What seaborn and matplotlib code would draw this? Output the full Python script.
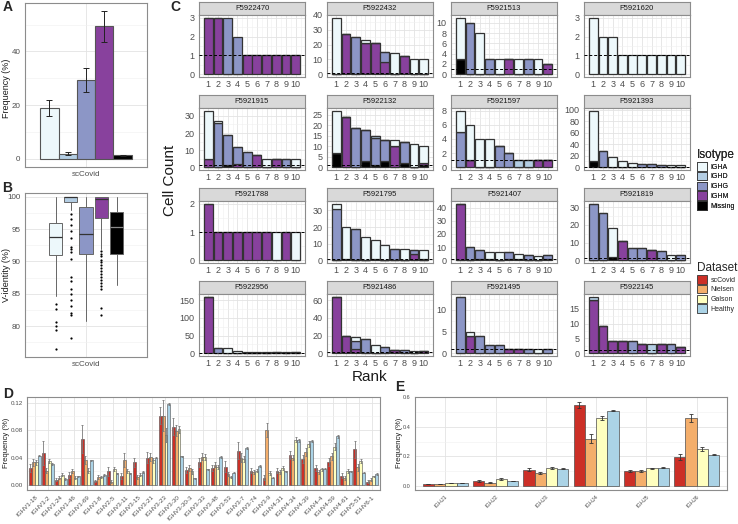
import numpy as np
import pandas as pd
import matplotlib
matplotlib.use("Agg")
import matplotlib.pyplot as plt
import seaborn as sns
from matplotlib.patches import Patch
from matplotlib.ticker import MultipleLocator


W, H = 738, 524

# -----------------------------
# Data
# -----------------------------
isotypes = ["IGHA", "IGHD", "IGHG", "IGHM", "Missing"]
iso_colors = ["#edf8fb", "#b3cde3", "#8c96c6", "#88419d", "#000000"]

datasets = ["scCovid", "Nielsen", "Galson", "Healthy"]
ds_colors = ["#cc2f27", "#f4ae6b", "#ffffbf", "#abd3e6"]

# A: isotype frequency (%)
iso_freq = [19.0, 2.0, 29.3, 49.4, 1.3]
iso_err = [3.0, 0.6, 4.4, 5.8, 0.3]

# B: V-identity boxplot summaries
box_med = [93.8, 100.0, 94.3, 99.7, 95.3]
box_q1 = [91.0, 99.2, 91.2, 96.8, 91.2]
box_q3 = [96.0, 100.0, 98.4, 100.0, 97.6]
box_lo = [84.6, 98.0, 80.7, 92.0, 86.3]
box_hi = [100.0, 100.0, 100.0, 100.0, 100.0]
fliers_igha = [83.4, 82.6, 80.6, 80.0, 79.4, 76.4]
fliers_ighd = [97.3, 96.5, 95.7, 94.7, 93.6, 92.2, 91.9, 91.5, 90.4, 87.6,
               86.9, 85.7, 84.9, 84.0, 83.1, 82.0, 81.7, 78.1]
fliers_ighg = []
fliers_ighm = [91.6, 91.2, 90.8, 90.3, 89.9, 89.4, 89.0, 88.5, 88.1, 87.6,
               87.2, 86.7, 86.2, 85.8, 82.8, 81.7]
fliers_missing = []

# C: clone cell counts by rank for each donor
ranks = list(range(1, 11))
facet_names = ["F5922470", "F5922432", "F5921513", "F5921620",
               "F5921915", "F5922132", "F5921597", "F5921393",
               "F5921788", "F5921795", "F5921407", "F5921819",
               "F5922956", "F5921486", "F5921495", "F5922145"]

F5922470 = {"IGHG": [0, 0, 3, 2, 0, 0, 0, 0, 0, 0],
            "IGHM": [3, 3, 0, 0, 1, 1, 1, 1, 1, 1]}
F5922432 = {"IGHA": [38, 0, 0, 2, 0, 0, 14, 0, 10, 10],
            "IGHG": [0, 0, 25, 0, 0, 7, 0, 0, 0, 0],
            "IGHM": [0, 27, 0, 21, 21, 8, 0, 12, 0, 0]}
F5921513 = {"IGHA": [8, 0, 8, 0, 3, 0, 3, 0, 3, 0],
            "IGHG": [0, 10, 0, 3, 0, 0, 0, 3, 0, 0],
            "IGHM": [0, 0, 0, 0, 0, 3, 0, 0, 0, 2],
            "Missing": [3, 0, 0, 0, 0, 0, 0, 0, 0, 0]}
F5921620 = {"IGHA": [3, 2, 2, 1, 1, 1, 1, 1, 1, 1]}
F5921915 = {"IGHA": [28, 1, 0, 0, 0, 0, 5, 0, 0, 5],
            "IGHG": [0, 26, 18, 10, 9, 0, 0, 0, 5, 0],
            "IGHM": [5, 0, 0, 2, 0, 7, 0, 5, 0, 0],
            "Missing": [0, 0, 1, 0, 0, 0, 0, 0, 0, 0]}
F5922132 = {"IGHA": [20, 0, 0, 0, 0, 0, 3, 0, 11, 8],
            "IGHD": [0, 0, 0, 0, 1, 0, 0, 0, 0, 0],
            "IGHG": [0, 0, 19, 15, 13, 10, 0, 10, 0, 0],
            "IGHM": [0, 24, 0, 0, 0, 0, 10, 0, 0, 1],
            "Missing": [7, 0, 0, 3, 1, 3, 0, 2, 0, 1]}
F5921597 = {"IGHA": [3, 5, 4, 4, 0, 0, 0, 0, 0, 0],
            "IGHD": [0, 0, 0, 0, 0, 0, 1, 1, 0, 0],
            "IGHG": [5, 0, 0, 0, 3, 2, 0, 0, 0, 0],
            "IGHM": [0, 1, 0, 0, 0, 0, 0, 0, 1, 1]}
F5921393 = {"IGHA": [88, 0, 18, 10, 7, 0, 0, 0, 4, 3],
            "IGHG": [0, 28, 0, 0, 0, 6, 5, 4, 0, 0],
            "Missing": [10, 0, 0, 0, 0, 0, 0, 0, 0, 0]}
F5921788 = {"IGHA": [0, 0, 0, 0, 0, 0, 0, 1, 0, 1],
            "IGHM": [2, 1, 1, 1, 1, 1, 1, 0, 1, 0]}
F5921795 = {"IGHA": [3, 19, 0, 14, 11, 9, 0, 7, 0, 5],
            "IGHG": [31, 0, 19, 0, 0, 0, 7, 0, 2, 1],
            "IGHM": [0, 0, 0, 0, 0, 0, 0, 0, 4, 0],
            "Missing": [0, 1, 0, 0, 1, 0, 0, 0, 0, 0]}
F5921407 = {"IGHA": [0, 0, 0, 5, 6, 0, 4, 0, 3, 0],
            "IGHG": [0, 10, 7, 0, 0, 5, 0, 4, 0, 3],
            "IGHM": [43, 0, 0, 0, 0, 0, 0, 0, 0, 0],
            "Missing": [0, 0, 1, 1, 0, 1, 1, 0, 0, 1]}
F5921819 = {"IGHA": [0, 0, 16, 0, 0, 0, 0, 0, 3, 0],
            "IGHG": [32, 27, 0, 0, 7, 7, 0, 5, 0, 3],
            "IGHM": [0, 0, 0, 11, 0, 0, 6, 0, 0, 0],
            "Missing": [0, 0, 2, 0, 0, 0, 0, 0, 0, 0]}
F5922956 = {"IGHA": [0, 0, 14, 5, 4, 2, 2, 0, 2, 0],
            "IGHG": [0, 15, 0, 0, 0, 0, 0, 2, 0, 2],
            "IGHM": [160, 0, 0, 0, 0, 0, 0, 0, 0, 0]}
F5921486 = {"IGHA": [0, 0, 4, 0, 9, 0, 0, 0, 3, 0],
            "IGHG": [0, 0, 9, 16, 0, 7, 0, 4, 0, 0],
            "IGHM": [64, 20, 5, 0, 0, 0, 4, 0, 0, 3]}
F5921495 = {"IGHA": [0, 1, 0, 0, 0, 0, 0, 0, 1, 0],
            "IGHG": [13, 0, 4, 2, 2, 0, 0, 1, 0, 1],
            "IGHM": [0, 4, 0, 0, 0, 1, 1, 0, 0, 0]}
F5922145 = {"IGHD": [1, 0, 0, 0, 0, 0, 3, 0, 0, 0],
            "IGHG": [0, 0, 0, 0, 4, 0, 0, 0, 3, 0],
            "IGHM": [18, 9, 4, 4, 0, 3, 0, 3, 0, 2]}

facet_counts = [F5922470, F5922432, F5921513, F5921620,
                F5921915, F5922132, F5921597, F5921393,
                F5921788, F5921795, F5921407, F5921819,
                F5922956, F5921486, F5921495, F5922145]
facet_ticks = [[0, 1, 2, 3], [0, 10, 20, 30, 40], [0, 2, 4, 6, 8, 10], [0, 1, 2, 3],
               [0, 10, 20, 30], [0, 5, 10, 15, 20, 25], [0, 2, 4, 6, 8], [0, 20, 40, 60, 80, 100],
               [0, 1, 2], [0, 10, 20, 30], [0, 10, 20, 30, 40], [0, 10, 20, 30],
               [0, 50, 100, 150], [0, 20, 40, 60], [0, 5, 10], [0, 5, 10, 15]]

# D: IGHV gene usage
v_genes = ["IGHV1-18", "IGHV1-2", "IGHV1-24", "IGHV1-46", "IGHV1-69", "IGHV1-8",
           "IGHV2-5", "IGHV3-11", "IGHV3-15", "IGHV3-21", "IGHV3-23", "IGHV3-30",
           "IGHV3-30-3", "IGHV3-33", "IGHV3-48", "IGHV3-53", "IGHV3-7", "IGHV3-74",
           "IGHV3-9", "IGHV4-31", "IGHV4-34", "IGHV4-39", "IGHV4-4", "IGHV4-59",
           "IGHV4-61", "IGHV5-51", "IGHV6-1"]
v_sccovid = [0.025, 0.047, 0.008, 0.015, 0.067, 0.006, 0.020, 0.013, 0.033, 0.040,
             0.101, 0.085, 0.022, 0.033, 0.025, 0.027, 0.050, 0.021, 0.011, 0.021,
             0.044, 0.038, 0.025, 0.034, 0.014, 0.052, 0.005]
v_nielsen = [0.033, 0.021, 0.011, 0.020, 0.037, 0.012, 0.005, 0.036, 0.012, 0.041,
             0.101, 0.079, 0.025, 0.041, 0.030, 0.016, 0.040, 0.019, 0.080, 0.019,
             0.040, 0.048, 0.019, 0.042, 0.011, 0.026, 0.008]
v_galson = [0.033, 0.035, 0.015, 0.011, 0.021, 0.012, 0.024, 0.020, 0.015, 0.036,
            0.073, 0.081, 0.020, 0.041, 0.027, 0.012, 0.038, 0.021, 0.018, 0.025,
            0.066, 0.060, 0.023, 0.056, 0.020, 0.035, 0.013]
v_healthy = [0.043, 0.031, 0.009, 0.013, 0.036, 0.015, 0.017, 0.017, 0.019, 0.040,
             0.118, 0.042, 0.010, 0.023, 0.041, 0.018, 0.054, 0.028, 0.011, 0.020,
             0.065, 0.064, 0.024, 0.071, 0.020, 0.018, 0.016]
v_err_sccovid = [0.006, 0.017, 0.002, 0.004, 0.020, 0.002, 0.007, 0.004, 0.006, 0.008,
                 0.012, 0.012, 0.005, 0.006, 0.004, 0.008, 0.012, 0.004, 0.004, 0.004,
                 0.006, 0.006, 0.004, 0.006, 0.004, 0.012, 0.002]
v_err_nielsen = [0.005, 0.004, 0.002, 0.003, 0.006, 0.003, 0.002, 0.010, 0.003, 0.006,
                 0.022, 0.008, 0.004, 0.005, 0.004, 0.003, 0.007, 0.003, 0.010, 0.003,
                 0.004, 0.006, 0.003, 0.005, 0.003, 0.005, 0.002]
v_err_galson = [0.003, 0.003, 0.002, 0.002, 0.004, 0.002, 0.003, 0.003, 0.002, 0.004,
                0.010, 0.005, 0.004, 0.004, 0.003, 0.002, 0.005, 0.002, 0.003, 0.003,
                0.004, 0.004, 0.002, 0.005, 0.003, 0.003, 0.001]
v_err_healthy = [0.001, 0.001, 0.001, 0.001, 0.001, 0.001, 0.001, 0.001, 0.001, 0.001,
                 0.002, 0.001, 0.001, 0.001, 0.001, 0.001, 0.001, 0.001, 0.001, 0.001,
                 0.002, 0.002, 0.001, 0.002, 0.001, 0.001, 0.001]

# E: IGHJ gene usage
j_genes = ["IGHJ1", "IGHJ2", "IGHJ3", "IGHJ4", "IGHJ5", "IGHJ6"]
j_sccovid = [0.010, 0.030, 0.107, 0.550, 0.098, 0.195]
j_nielsen = [0.012, 0.020, 0.086, 0.320, 0.097, 0.460]
j_galson = [0.018, 0.045, 0.119, 0.460, 0.117, 0.251]
j_healthy = [0.018, 0.031, 0.115, 0.510, 0.122, 0.211]
j_err_sccovid = [0.002, 0.006, 0.010, 0.020, 0.008, 0.022]
j_err_nielsen = [0.002, 0.003, 0.008, 0.030, 0.006, 0.030]
j_err_galson = [0.002, 0.004, 0.006, 0.012, 0.004, 0.015]
j_err_healthy = [0.001, 0.001, 0.002, 0.004, 0.002, 0.004]


# -----------------------------
# Helpers
# -----------------------------
def add_axes_px(fig, x0, y0, x1, y1):
    return fig.add_axes([x0 / W, 1 - y1 / H, (x1 - x0) / W, (y1 - y0) / H])


def ylabel_px(fig, x, y, text, size):
    fig.text(x / W, 1 - y / H, text, rotation=90, fontsize=size,
             ha="center", va="center", color="#1a1a1a")


def style_panel(ax, tick_size):
    ax.set_facecolor("white")
    for s in ax.spines.values():
        s.set_visible(True)
        s.set_color("#8c8c8c")
        s.set_linewidth(0.8)
    ax.tick_params(axis="both", which="major", length=2, width=0.5,
                   color="#333333", labelsize=tick_size,
                   labelcolor="#4d4d4d", pad=1.2)
    ax.tick_params(axis="both", which="minor", length=0)
    ax.grid(True, which="major", color="#e3e3e3", linewidth=0.6)
    ax.grid(True, which="minor", color="#f0f0f0", linewidth=0.4)
    ax.set_axisbelow(True)
    ax.set_xlabel("")
    ax.set_ylabel("")


def add_errorbars(ax, values, errors, color, lw, cap):
    bars = [p for p in ax.patches if p.get_height() > 0]
    bars = sorted(bars, key=lambda p: p.get_x())
    centers = [p.get_x() + p.get_width() / 2 for p in bars]
    ax.errorbar(centers, values, yerr=errors, fmt="none", ecolor=color,
                elinewidth=lw, capsize=cap, capthick=lw, zorder=5)


# -----------------------------
# Panels
# -----------------------------
def panel_a(fig):
    ax = add_axes_px(fig, 25, 3, 147, 167)
    df = pd.DataFrame({"dataset": "scCovid", "isotype": isotypes, "freq": iso_freq})
    sns.barplot(data=df, x="dataset", y="freq", hue="isotype", hue_order=isotypes,
                palette=iso_colors, width=0.9, saturation=1, errorbar=None,
                edgecolor="#555555", linewidth=0.8, legend=False, ax=ax)
    add_errorbars(ax, iso_freq, iso_err, "#222222", 0.7, 2.5)
    style_panel(ax, 5.8)
    ax.set_xlim(-0.6, 0.6)
    ax.set_ylim(-3, 58)
    ax.set_yticks([0, 20, 40])
    ax.yaxis.set_minor_locator(MultipleLocator(10))
    ylabel_px(fig, 7, 88, "Frequency (%)", 6.5)


def panel_b(fig):
    ax = add_axes_px(fig, 25, 193, 147, 357)
    fliers = [fliers_igha, fliers_ighd, fliers_ighg, fliers_ighm, fliers_missing]
    stats = []
    for i in range(len(isotypes)):
        stats.append({"med": box_med[i], "q1": box_q1[i], "q3": box_q3[i],
                      "whislo": box_lo[i], "whishi": box_hi[i],
                      "fliers": fliers[i], "label": isotypes[i]})
    bp = ax.bxp(stats, positions=[-0.3, -0.15, 0.0, 0.15, 0.3], widths=0.13,
                patch_artist=True, showcaps=False,
                boxprops=dict(edgecolor="#666666", linewidth=0.7),
                whiskerprops=dict(color="#666666", linewidth=0.7),
                medianprops=dict(color="#333333", linewidth=0.9),
                flierprops=dict(marker="o", markersize=1.6, markerfacecolor="black",
                                markeredgecolor="none"))
    for patch, col in zip(bp["boxes"], iso_colors):
        patch.set_facecolor(col)
    bp["medians"][-1].set_color("#8a8a8a")
    style_panel(ax, 5.8)
    ax.set_xlim(-0.6, 0.6)
    ax.set_xticks([0])
    ax.set_xticklabels(["scCovid"])
    ax.set_ylim(75.2, 100.6)
    ax.set_yticks([80, 85, 90, 95, 100])
    ax.yaxis.set_minor_locator(MultipleLocator(2.5))
    ylabel_px(fig, 7, 275, "V-identity (%)", 6.5)


def panel_c(fig):
    col_x = [(199, 305), (327, 433), (451, 557), (584, 690)]
    for i, name in enumerate(facet_names):
        r, c = divmod(i, 4)
        x0, x1 = col_x[c]
        top = 2 + 93 * r

        sax = add_axes_px(fig, x0, top, x1, top + 13)
        sax.set_facecolor("#d9d9d9")
        sax.set_xticks([])
        sax.set_yticks([])
        for s in sax.spines.values():
            s.set_color("#8c8c8c")
            s.set_linewidth(0.8)
        sax.text(0.5, 0.5, name, ha="center", va="center", fontsize=5.5,
                 color="#1a1a1a", transform=sax.transAxes)

        ax = add_axes_px(fig, x0, top + 13, x1, top + 75)
        counts = facet_counts[i]
        rows = []
        for iso in isotypes:
            if iso not in counts:
                continue
            for rk, n in zip(ranks, counts[iso]):
                if n > 0:
                    rows.append({"rank": rk, "isotype": iso, "count": n})
        df = pd.DataFrame(rows)
        present = [iso for iso in isotypes if iso in set(df["isotype"])]
        pal = dict(zip(isotypes, iso_colors))
        sns.histplot(data=df, x="rank", weights="count", hue="isotype",
                     hue_order=present, palette=pal, multiple="stack",
                     discrete=True, shrink=0.9, edgecolor="#333333",
                     linewidth=0.9, alpha=1, legend=False, ax=ax)
        totals = df.groupby("rank")["count"].sum()
        ymax = totals.max()
        ax.axhline(1, color="black", linestyle=(0, (3, 2)), linewidth=0.7, zorder=6)
        style_panel(ax, 6.5)
        ax.set_xlim(0.055, 10.945)
        ax.set_xticks(ranks)
        ax.xaxis.set_minor_locator(MultipleLocator(0.5))
        ax.set_ylim(-0.05 * ymax, 1.05 * ymax)
        ticks = facet_ticks[i]
        ax.set_yticks(ticks)
        if len(ticks) > 1:
            ax.yaxis.set_minor_locator(MultipleLocator((ticks[1] - ticks[0]) / 2))
        ax.tick_params(axis="x", pad=0.5)

    ylabel_px(fig, 170, 180, "Cell Count", 11)
    fig.text(370 / W, 1 - 377 / H, "Rank", fontsize=11, ha="center",
             va="center", color="#1a1a1a")

    iso_handles = [Patch(facecolor=c, edgecolor="#333333", linewidth=0.6, label=l)
                   for l, c in zip(isotypes, iso_colors)]
    leg1 = fig.legend(handles=iso_handles, title="Isotype", loc="upper left",
                      bbox_to_anchor=(694 / W, 1 - 146 / H), frameon=False,
                      fontsize=5, title_fontsize=8.5, handlelength=1.45,
                      handleheight=1.5, labelspacing=0.18, handletextpad=0.5,
                      borderaxespad=0, alignment="left")
    ds_handles = [Patch(facecolor=c, edgecolor="#333333", linewidth=0.6, label=l)
                  for l, c in zip(datasets, ds_colors)]
    fig.legend(handles=ds_handles, title="Dataset", loc="upper left",
               bbox_to_anchor=(694 / W, 1 - 259 / H), frameon=False,
               fontsize=5, title_fontsize=8.5, handlelength=1.45,
               handleheight=1.5, labelspacing=0.18, handletextpad=0.5,
               borderaxespad=0, alignment="left")
    fig.add_artist(leg1)


def gene_frame(genes, series):
    rows = []
    for gi, g in enumerate(genes):
        for d, vals in zip(datasets, series):
            rows.append({"gene": g, "dataset": d, "freq": vals[gi]})
    return pd.DataFrame(rows)


def panel_d(fig):
    ax = add_axes_px(fig, 27, 397, 380, 490)
    series = [v_sccovid, v_nielsen, v_galson, v_healthy]
    errs = [v_err_sccovid, v_err_nielsen, v_err_galson, v_err_healthy]
    df = gene_frame(v_genes, series)
    sns.barplot(data=df, x="gene", y="freq", hue="dataset", hue_order=datasets,
                palette=ds_colors, width=0.9, saturation=1, errorbar=None,
                edgecolor="#4d4d4d", linewidth=0.4, legend=False, ax=ax)
    err = [errs[di][gi] for gi in range(len(v_genes)) for di in range(len(datasets))]
    add_errorbars(ax, df["freq"].values, err, "#7a7a7a", 0.6, 0.8)
    style_panel(ax, 4.5)
    ax.set_xlim(-0.6, len(v_genes) - 0.4)
    ax.set_ylim(-0.007, 0.128)
    ax.set_yticks([0, 0.04, 0.08, 0.12])
    ax.set_yticklabels(["0.00", "0.04", "0.08", "0.12"])
    ax.yaxis.set_minor_locator(MultipleLocator(0.02))
    ax.set_xticks(range(len(v_genes)))
    ax.set_xticklabels(v_genes, rotation=45, ha="right", rotation_mode="anchor",
                       fontsize=4.5)
    ylabel_px(fig, 6, 443, "Frequency (%)", 5.5)


def panel_e(fig):
    ax = add_axes_px(fig, 415, 397, 727, 490)
    series = [j_sccovid, j_nielsen, j_galson, j_healthy]
    errs = [j_err_sccovid, j_err_nielsen, j_err_galson, j_err_healthy]
    df = gene_frame(j_genes, series)
    sns.barplot(data=df, x="gene", y="freq", hue="dataset", hue_order=datasets,
                palette=ds_colors, width=0.9, saturation=1, errorbar=None,
                edgecolor="#4d4d4d", linewidth=0.5, legend=False, ax=ax)
    err = [errs[di][gi] for gi in range(len(j_genes)) for di in range(len(datasets))]
    add_errorbars(ax, df["freq"].values, err, "#333333", 0.6, 1.2)
    style_panel(ax, 4)
    ax.set_xlim(-0.6, len(j_genes) - 0.4)
    ax.set_ylim(-0.03, 0.603)
    ax.set_yticks([0, 0.2, 0.4, 0.6])
    ax.set_yticklabels(["0.0", "0.2", "0.4", "0.6"])
    ax.yaxis.set_minor_locator(MultipleLocator(0.1))
    ax.set_xticks(range(len(j_genes)))
    ax.set_xticklabels(j_genes, rotation=45, ha="right", rotation_mode="anchor",
                       fontsize=4)
    ylabel_px(fig, 400, 443, "Frequency (%)", 5.5)


# -----------------------------
# Main
# -----------------------------
def main():
    sns.set_theme(style="white")
    plt.rcParams["font.family"] = ["Liberation Sans", "DejaVu Sans"]

    fig = plt.figure(figsize=(W / 100, H / 100), dpi=100)

    panel_a(fig)
    panel_b(fig)
    panel_c(fig)
    panel_d(fig)
    panel_e(fig)

    letters = [("A", 3, 7), ("B", 2, 188), ("C", 170, 7), ("D", 3, 394), ("E", 395, 387)]
    for txt, x, y in letters:
        fig.text(x / W, 1 - y / H, txt, fontsize=10, fontweight="bold",
                 ha="left", va="center")

    fig.savefig("out.png", dpi=100)


if __name__ == "__main__":
    main()
